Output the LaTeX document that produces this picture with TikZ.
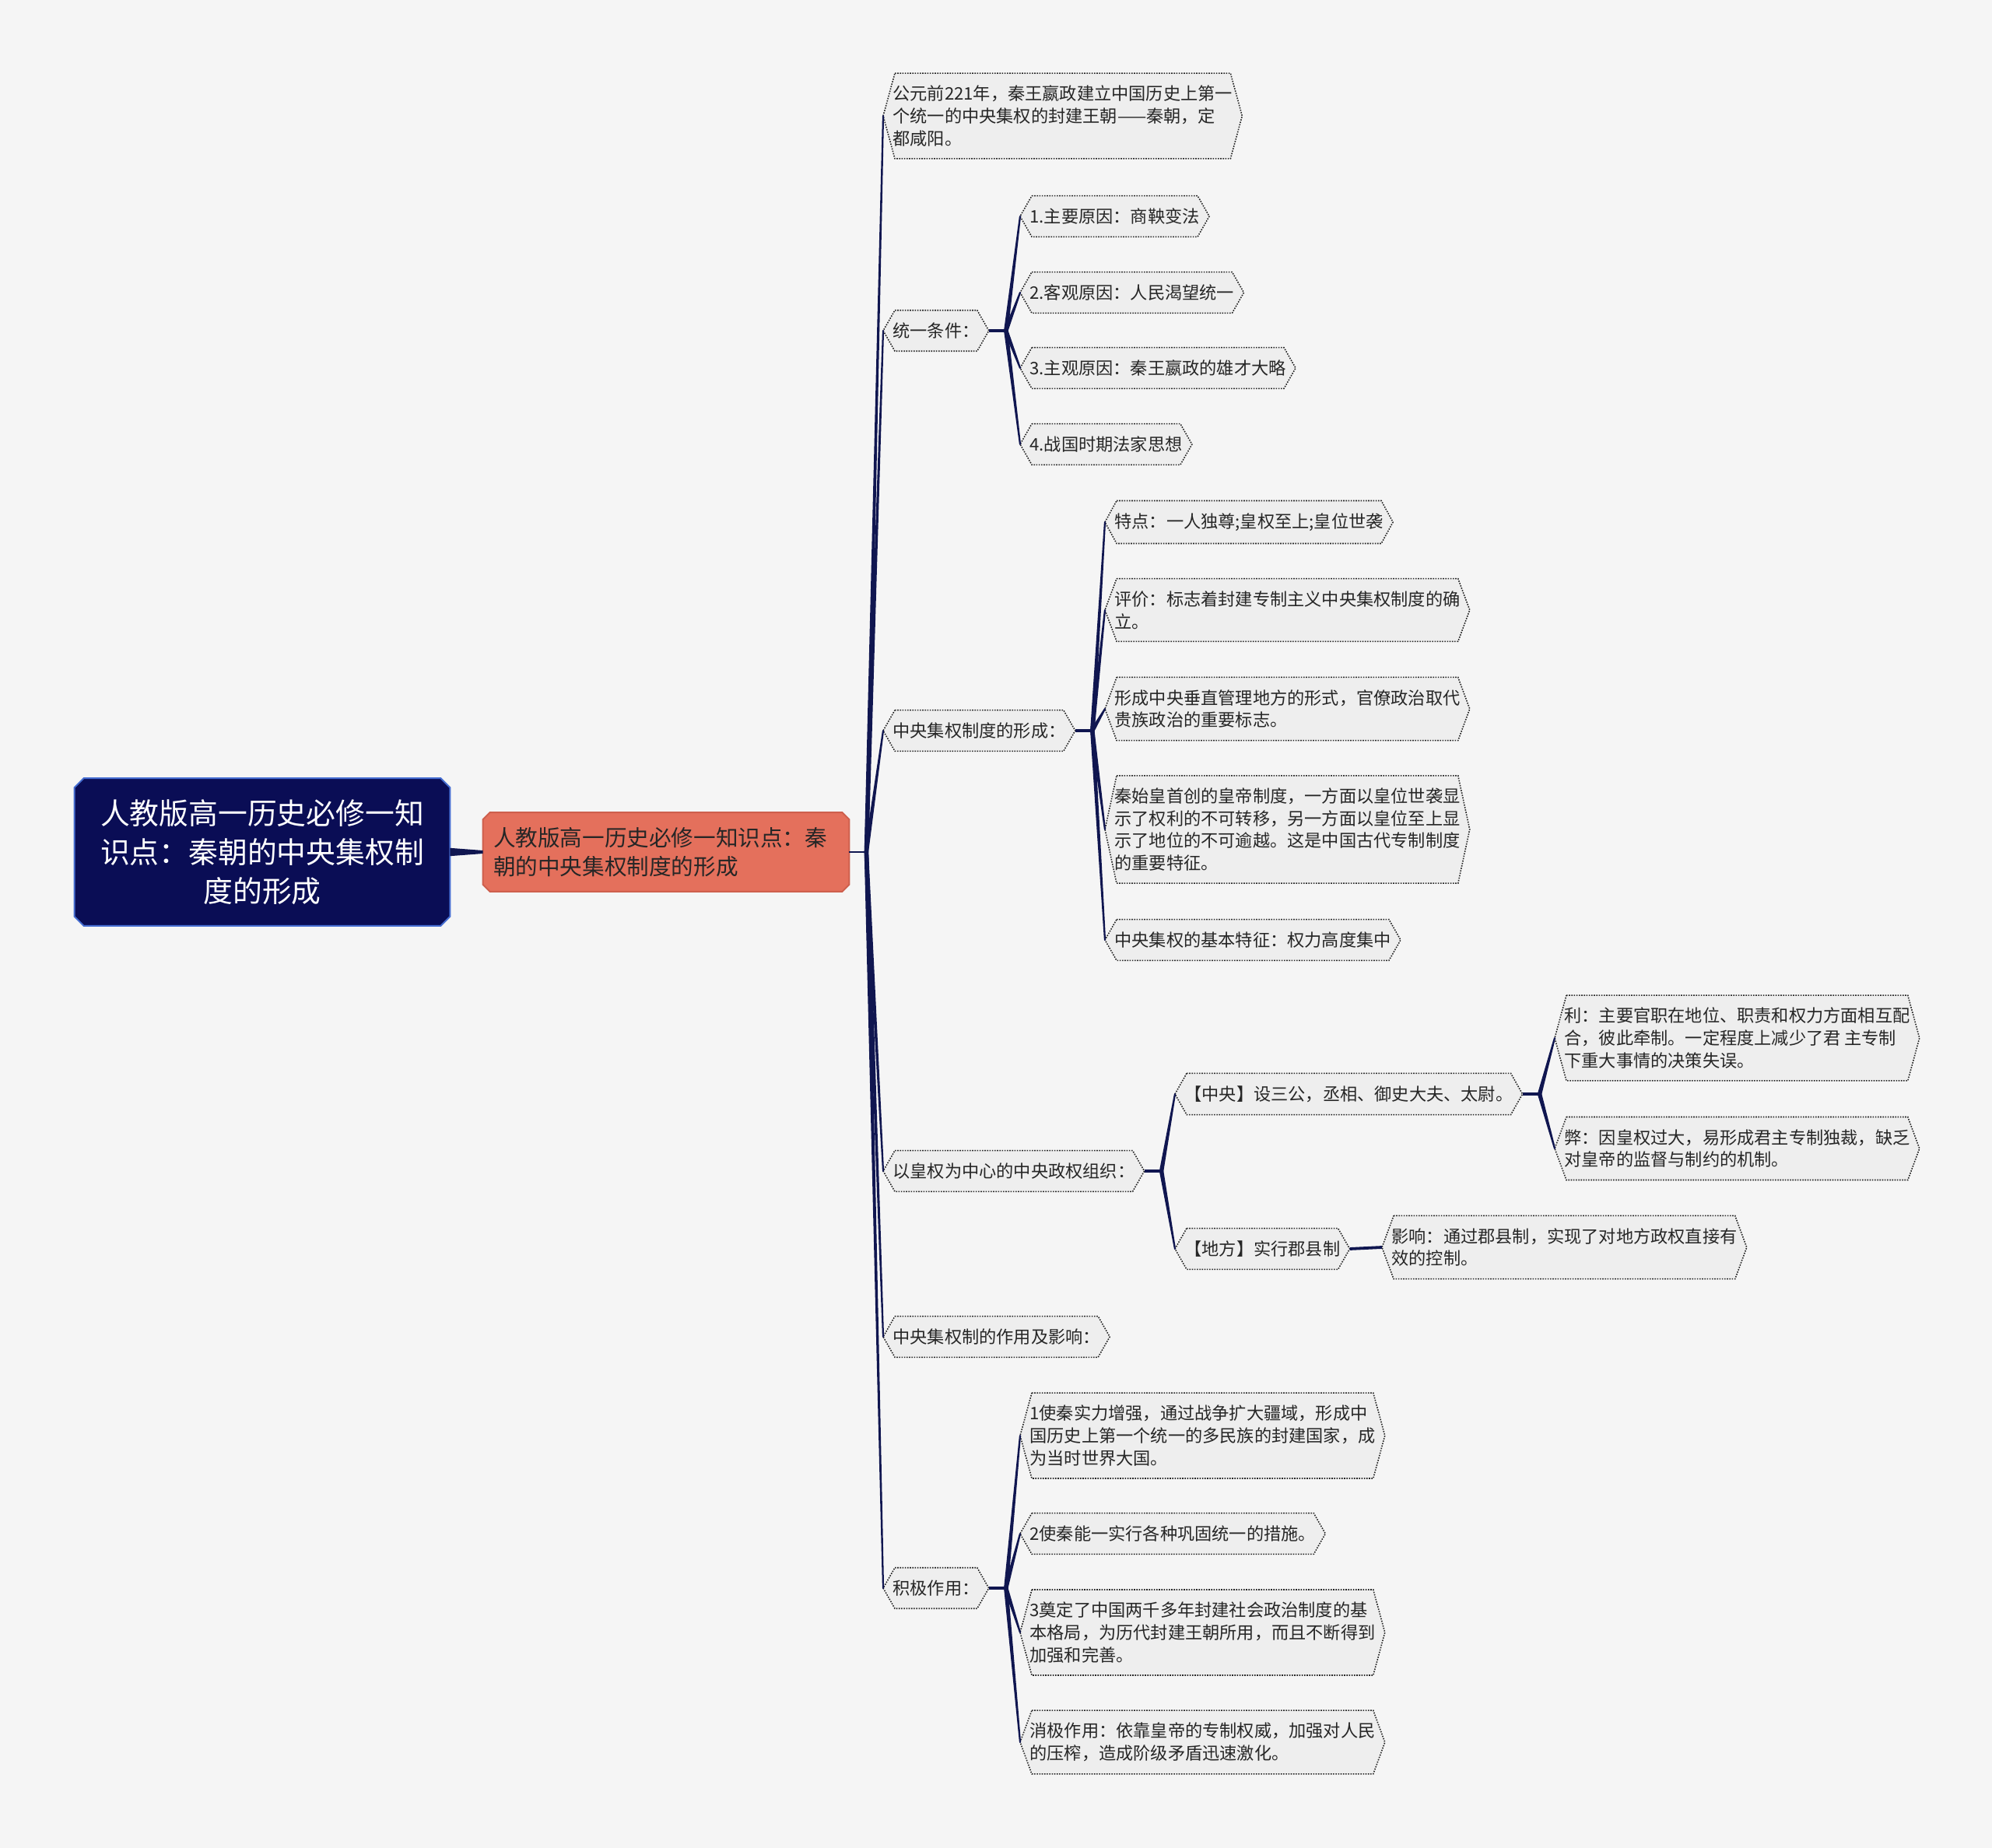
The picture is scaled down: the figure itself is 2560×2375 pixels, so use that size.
\documentclass[tikz,border=0pt]{standalone}
\usepackage{fontspec}
\setmainfont{Noto Sans CJK SC}
\usetikzlibrary{calc}
\definecolor{pagegrey}{RGB}{245,245,245}
\definecolor{boxgrey}{RGB}{238,238,238}
\definecolor{inkgrey}{RGB}{38,38,38}
\definecolor{linknavy}{RGB}{16,22,80}
\definecolor{rootnavy}{RGB}{10,13,85}
\definecolor{rootedge}{RGB}{70,110,210}
\definecolor{salmon}{RGB}{228,112,92}
\definecolor{salmonedge}{RGB}{206,96,78}
\pgfdeclarelayer{paper}
\pgfdeclarelayer{boxes}
\pgfsetlayers{paper,boxes,main}

\begin{document}
\begin{tikzpicture}[
  x=0.5pt, y=-0.5pt,
  every node/.style={font=\fontsize{11.1}{14.3}\selectfont, text=inkgrey},
  title/.style={align=center, text=white, minimum width=241pt, minimum height=94.5pt, font=\fontsize{18.9}{25}\selectfont},
  topic/.style={align=left, text=black!85, text width=222pt, inner xsep=6.5pt, minimum height=50.5pt, font=\fontsize{14.3}{18.3}\selectfont},
  item/.style={anchor=west, align=left, inner xsep=6pt, inner ysep=7.8pt},
  frame/.style={draw=black!85, line width=0.8pt, dash pattern=on 0.8pt off 0.8pt, fill=boxgrey},
  stub/.style={draw=linknavy, line width=1.9pt},
  branch/.style={fill=linknavy, draw=linknavy, line width=1.1pt, line join=round,
    to path={($(\tikztostart)!0.8pt!90:(\tikztotarget)$) -- (\tikztotarget) -- ($(\tikztostart)!0.8pt!-90:(\tikztotarget)$) -- cycle}}
]
  \begin{pgfonlayer}{paper}
    \fill[pagegrey] (0,0) rectangle (2560,2375);
  \end{pgfonlayer}

  % centre
  \node[title] (root) at (337,1095) {人教版高一历史必修一知\\识点：秦朝的中央集权制\\度的形成};
  \node[topic] (head) at (856,1095) {人教版高一历史必修一知识点：秦\\朝的中央集权制度的形成};
  \coordinate (hub) at ([xshift=11pt]head.east);

  % first level
  \node[item] (era) at (1135,149) {公元前221年，秦王嬴政建立中国历史上第一\\个统一的中央集权的封建王朝——秦朝，定\\都咸阳。};
  \node[item] (unify) at (1135,425) {统一条件：};
  \node[item] (form) at (1135,939) {中央集权制度的形成：};
  \node[item] (organ) at (1135,1505) {以皇权为中心的中央政权组织：};
  \node[item] (role) at (1135,1718) {中央集权制的作用及影响：};
  \node[item] (plus) at (1135,2041) {积极作用：};

  % unification
  \node[item] (u1) at (1311,278) {1.主要原因：商鞅变法};
  \node[item] (u2) at (1311,376) {2.客观原因：人民渴望统一};
  \node[item] (u3) at (1311,473) {3.主观原因：秦王嬴政的雄才大略};
  \node[item] (u4) at (1311,571) {4.战国时期法家思想};

  % formation
  \node[item] (f1) at (1420,671) {特点：一人独尊;皇权至上;皇位世袭};
  \node[item] (f2) at (1420,784) {评价：标志着封建专制主义中央集权制度的确\\立。};
  \node[item] (f3) at (1420,911) {形成中央垂直管理地方的形式，官僚政治取代\\贵族政治的重要标志。};
  \node[item] (f4) at (1420,1066) {秦始皇首创的皇帝制度，一方面以皇位世袭显\\示了权利的不可转移，另一方面以皇位至上显\\示了地位的不可逾越。这是中国古代专制制度\\的重要特征。};
  \node[item] (f5) at (1420,1208) {中央集权的基本特征：权力高度集中};

  % organisation
  \node[item] (centre) at (1510,1406) {【中央】设三公，丞相、御史大夫、太尉。};
  \node[item] (local) at (1510,1605) {【地方】实行郡县制};
  \node[item] (merit) at (1998,1334) {利：主要官职在地位、职责和权力方面相互配\\合，彼此牵制。一定程度上减少了君 主专制\\下重大事情的决策失误。};
  \node[item] (flaw) at (1998,1476) {弊：因皇权过大，易形成君主专制独裁，缺乏\\对皇帝的监督与制约的机制。};
  \node[item] (effect) at (1776,1603) {影响：通过郡县制，实现了对地方政权直接有\\效的控制。};

  % effects
  \node[item] (p1) at (1311,1845) {1使秦实力增强，通过战争扩大疆域，形成中\\国历史上第一个统一的多民族的封建国家，成\\为当时世界大国。};
  \node[item] (p2) at (1311,1971) {2使秦能一实行各种巩固统一的措施。};
  \node[item] (p3) at (1311,2098) {3奠定了中国两千多年封建社会政治制度的基\\本格局，为历代封建王朝所用，而且不断得到\\加强和完善。};
  \node[item] (p4) at (1311,2239) {消极作用：依靠皇帝的专制权威，加强对人民\\的压榨，造成阶级矛盾迅速激化。};

  % box outlines
  \begin{pgfonlayer}{boxes}
    \foreach \n/\c/\f/\e in {root/6pt/rootnavy/rootedge, head/4.5pt/salmon/salmonedge}
      \draw[fill=\f, draw=\e, line width=1pt] ([xshift=\c]\n.north west) -- ([xshift=-\c]\n.north east)
        -- ([yshift=-\c]\n.north east) -- ([yshift=\c]\n.south east) -- ([xshift=-\c]\n.south east)
        -- ([xshift=\c]\n.south west) -- ([yshift=\c]\n.south west) -- ([yshift=-\c]\n.north west) -- cycle;
    \foreach \n in {era,unify,form,organ,role,plus,u1,u2,u3,u4,f1,f2,f3,f4,f5,centre,local,merit,flaw,effect,p1,p2,p3,p4}
      \draw[frame] ([xshift=7.5pt]\n.north west) -- ([xshift=-7.5pt]\n.north east) -- (\n.east)
        -- ([xshift=-7.5pt]\n.south east) -- ([xshift=7.5pt]\n.south west) -- (\n.west) -- cycle;
  \end{pgfonlayer}

  % connectors
  \fill[linknavy] ([yshift=2.6pt]root.east) -- ([yshift=1pt]head.west) -- ([yshift=-1pt]head.west) -- ([yshift=-2.6pt]root.east) -- cycle;
  \draw[stub, line width=1.4pt] (head.east) -- (hub);
  \foreach \n in {era,unify,form,organ,role,plus}
    \path[branch] (hub) to (\n.west);
  \foreach \p/\kids in {unify/{u1,u2,u3,u4}, form/{f1,f2,f3,f4,f5}, organ/{centre,local}, centre/{merit,flaw}, plus/{p1,p2,p3,p4}} {
    \coordinate (\p j) at ([xshift=11pt]\p.east);
    \draw[stub] (\p.east) -- (\p j);
    \foreach \k in \kids
      \path[branch] (\p j) to (\k.west);
  }
  \draw[stub] (local.east) -- (effect.west);
\end{tikzpicture}
\end{document}
